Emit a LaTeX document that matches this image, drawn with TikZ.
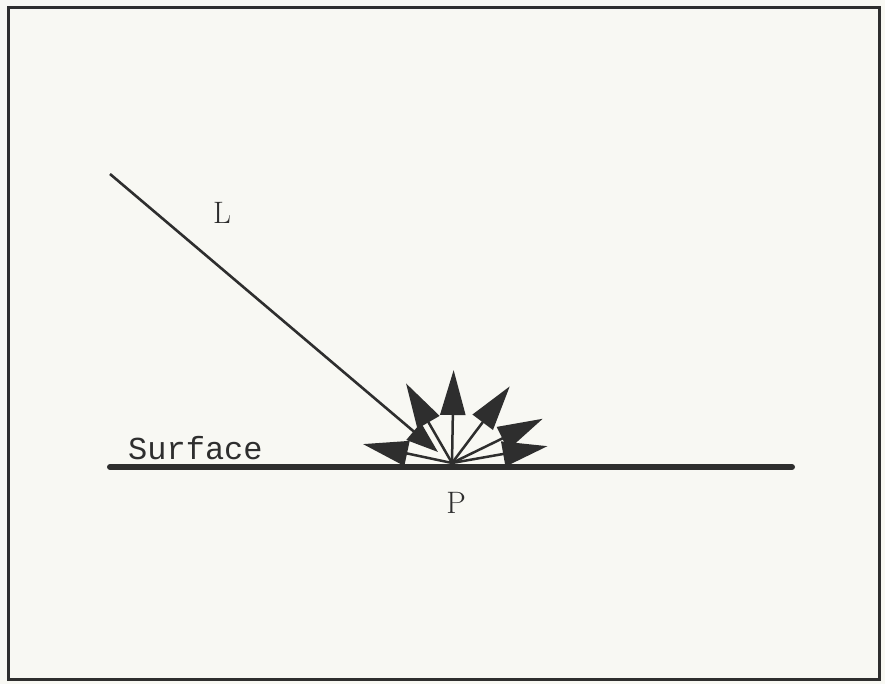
\documentclass[tikz,border=0pt]{standalone}
\usepackage{fontspec}
\newfontfamily\surffont{Liberation Mono}
\usetikzlibrary{arrows.meta}
\definecolor{paper}{HTML}{F8F8F3}
\definecolor{ink}{HTML}{2E2E2E}
\tikzset{
  ray/.style={ink, line width=2.5pt, -{Triangle[length=45pt,width=25pt]}},
  lbl/.style={ink, inner sep=0, font=\fontsize{31}{31}\selectfont}
}

\begin{document}
\begin{tikzpicture}[x=1pt,y=-1pt]
\fill[paper] (0,0) rectangle (885,684);
\useasboundingbox (0,0) rectangle (885,684);
\draw[ink, line width=3pt] (8,8) rectangle (879,679);
% surface
\coordinate (s0) at (110,467);
\coordinate (s1) at (792,467);
\draw[ink, line width=6pt, line cap=round] (s0) -- (s1);
\node (surf) [anchor=base west, inner sep=0, ink, font=\surffont\fontsize{32}{32}\selectfont] at (128,459) {Surface};
\coordinate (p) at (452,463);
\node (plab) [lbl] at (456,503) {P};
% incoming light
\coordinate (lsrc) at (110,174);
\coordinate (lhit) at (438,452);
\draw[ink, line width=2.6pt, -{Triangle[length=32pt,width=22pt]}] (lsrc) -- (lhit);
\node (llab) [lbl] at (222,213) {L};
% diffuse reflection
\foreach \ang/\len [count=\i] in {168/91, 120/92, 89/93, 53/96, 26/101, 10/97} {
  \path (p) ++(-\ang:\len) coordinate (r\i);
  \draw[ray] (p) -- (r\i);
}
\end{tikzpicture}
\end{document}
